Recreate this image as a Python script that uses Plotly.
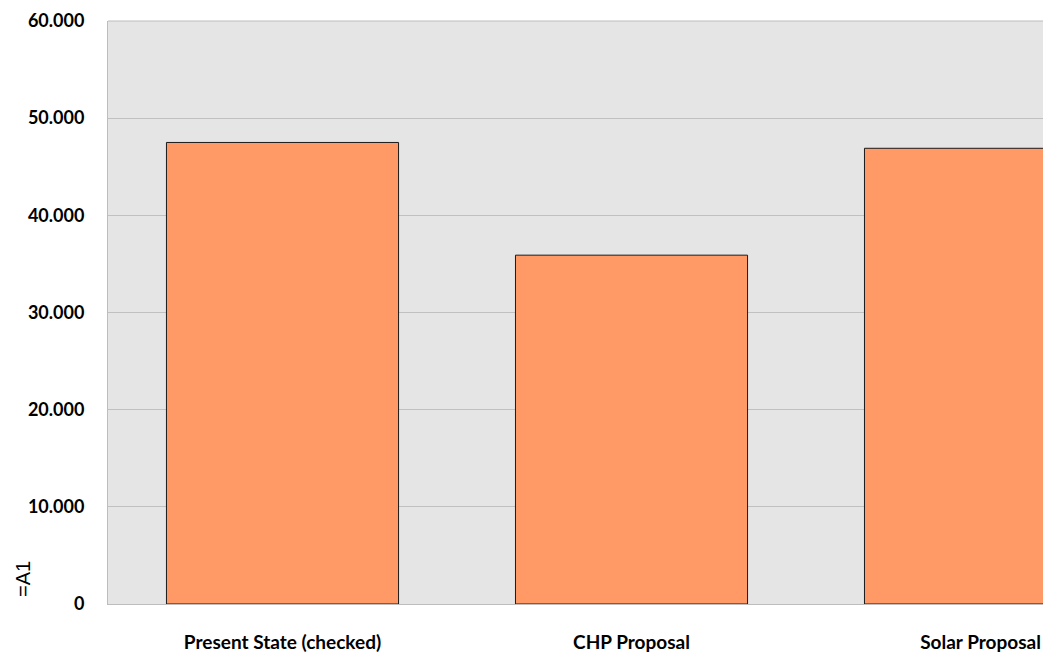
import plotly.graph_objects as go

# Scenario comparison data
categories = ["Present State (checked)", "CHP Proposal", "Solar Proposal"]
values = [47.5, 35.9, 46.9]
y_tick_values = [0, 10, 20, 30, 40, 50, 60]
y_tick_labels = ["0", "10.000", "20.000", "30.000", "40.000", "50.000", "60.000"]

fig = go.Figure(
    go.Bar(
        x=list(range(len(categories))),
        y=values,
        width=0.665,
        marker=dict(color="#FF9966", line=dict(color="#1a1a1a", width=1)),
        hoverinfo="y",
    )
)

fig.update_layout(
    width=1043,
    height=654,
    margin=dict(l=108, r=0, t=21, b=50),
    paper_bgcolor="white",
    plot_bgcolor="#e5e5e5",
    showlegend=False,
    font=dict(family="Lato, Open Sans, sans-serif", size=18, color="black"),
)

fig.update_xaxes(
    tickmode="array",
    tickvals=list(range(len(categories))),
    ticktext=[f"<b>{c}</b>" for c in categories],
    range=[-0.5, 2.179],
    showgrid=False,
    showline=True,
    linecolor="#bdbdbd",
    linewidth=1,
    ticks="",
    ticklabelstandoff=21,
    tickfont=dict(size=19),
    zeroline=False,
    automargin=False,
)

fig.update_yaxes(
    tickmode="array",
    tickvals=y_tick_values,
    ticktext=[f"<b>{t}</b>" for t in y_tick_labels],
    range=[0, 60],
    showgrid=True,
    gridcolor="#c0c0c0",
    gridwidth=1,
    showline=True,
    linecolor="#bdbdbd",
    linewidth=1,
    mirror=False,
    ticks="",
    ticklabelstandoff=19,
    tickfont=dict(size=18),
    zeroline=False,
    automargin=False,
)

# top border of the plot area
fig.add_shape(type="line", xref="paper", yref="paper", x0=0, x1=1, y0=1, y1=1,
              line=dict(color="#bdbdbd", width=1))

# axis caption placed low on the left
fig.add_annotation(
    text="=A1",
    xref="paper", yref="paper",
    x=-0.0909, y=0.0429,
    xanchor="center", yanchor="middle",
    textangle=-90,
    showarrow=False,
    font=dict(family="Liberation Sans, Arial, sans-serif", size=20, color="black"),
)

fig.write_html("out.html")
